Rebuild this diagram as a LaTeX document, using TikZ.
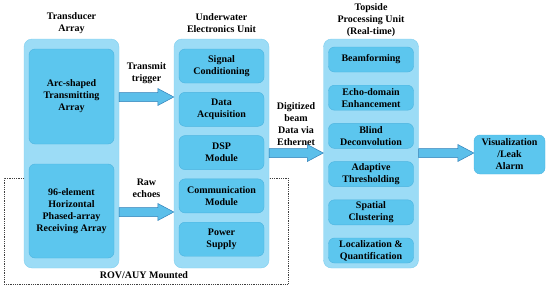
\documentclass[tikz,border=0pt]{standalone}
\usepackage{fontspec}
\setmainfont{Liberation Serif}
\usetikzlibrary{calc}
\definecolor{outerblue}{HTML}{9CDCF6}
\definecolor{outerline}{HTML}{80CFEF}
\definecolor{innerblue}{HTML}{5CC6EE}
\definecolor{innerline}{HTML}{4CB4E0}
\definecolor{arrowfill}{HTML}{5BBFEA}
\definecolor{arrowline}{HTML}{2F7FB8}
\tikzset{
  unitbox/.style={draw=outerline, fill=outerblue, rounded corners=8pt, minimum width=95pt, minimum height=229pt, inner sep=0pt},
  partbox/.style={draw=innerline, fill=innerblue, rounded corners=6pt, minimum width=85pt, inner sep=0pt, align=center, font=\fontsize{10}{12}\selectfont\bfseries},
  lbl/.style={align=center, inner sep=0pt, font=\fontsize{10}{12}\selectfont\bfseries},
  fatarrow/.style={draw=arrowline, fill=arrowfill, line width=0.5pt, line join=miter},
}
\newcommand{\blockarrow}[3]{%
  \path (#1.east |- 0,#3) coordinate (ba-s) (#2.west |- 0,#3) coordinate (ba-e);
  \draw[fatarrow] ($(ba-s)+(0,-4.5)$) -- ($(ba-e)+(-16,-4.5)$) -- ($(ba-e)+(-16,-8.5)$) -- (ba-e)
    -- ($(ba-e)+(-16,8.5)$) -- ($(ba-e)+(-16,4.5)$) -- ($(ba-s)+(0,4.5)$) -- cycle;
}

\begin{document}
\begin{tikzpicture}[x=1pt, y=-1pt]
    \useasboundingbox (0,0) rectangle (550,289);
    \node[unitbox] (tx) at (71.5,153.5) {};
    \node[unitbox] (ue) at (221.5,153.5) {};
    \node[unitbox] (tp) at (371,153.5) {};
    \node[lbl] (txt) at (71.5,23) {Transducer\\Array};
    \node[lbl] (uet) at (221.5,23) {Underwater\\Electronics Unit};
    \node[lbl] (tpt) at (371,20.5) {Topside\\Processing Unit\\(Real-time)};
    \node[partbox, minimum height=95pt] (tx1) at (71.5,96.5) {Arc-shaped\\Transmitting\\Array};
    \node[partbox, minimum height=94pt] (tx2) at (71.5,211) {96-element\\Horizontal\\Phased-array\\Receiving Array};
    \foreach \v [count=\i from 0] in {Signal\\Conditioning, Data\\Acquisition, DSP\\Module, Communication\\Module, Power\\Supply} {
        \node[partbox, minimum height=34pt] (ue\i) at (221.5,66+43.3*\i) {\v};
    }
    \foreach \v [count=\i from 0] in {Beamforming, Echo-domain\\Enhancement, Blind\\Deconvolution, Adaptive\\Thresholding, Spatial\\Clustering, Localization \&\\Quantification} {
        \node[partbox, minimum height=25pt] (tp\i) at (371,59.5+38.2*\i) {\v};
    }
    \node[partbox, minimum width=71pt, minimum height=39pt] (vis) at (509.5,154.5) {Visualization\\/Leak\\Alarm};
    \node[lbl] (trg) at (146.5,73) {Transmit\\trigger};
    \node[lbl] (raw) at (146.5,188) {Raw\\echoes};
    \node[lbl] (eth) at (296,124) {Digitized\\beam\\Data via\\Ethernet};
    \node[lbl] (rov) at (144,275) {ROV/AUY Mounted};
    \blockarrow{tx}{ue}{97}
    \blockarrow{tx}{ue}{212}
    \blockarrow{ue}{tp}{153}
    \blockarrow{tp}{vis}{153}
    \draw[densely dotted, line width=0.8pt, black!75] (tx.west |- 0,178) -- (4,178) -- (4,284) -- (288,284) -- (288,178) -- (ue.east |- 0,178);
\end{tikzpicture}
\end{document}
